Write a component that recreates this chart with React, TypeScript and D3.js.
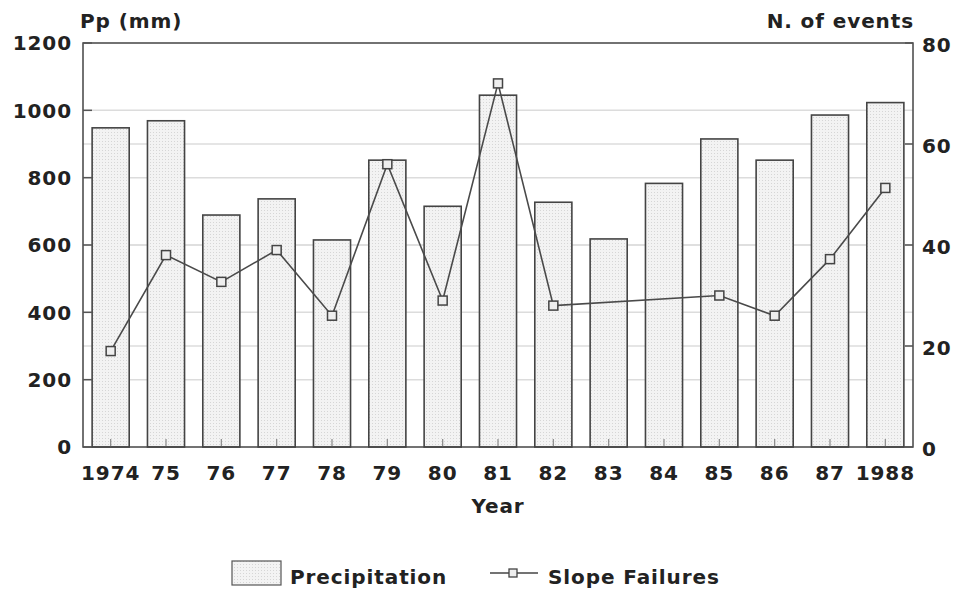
import React from "react";
import * as d3 from "d3";

const years = ["1974", "75", "76", "77", "78", "79", "80", "81", "82", "83", "84", "85", "86", "87", "1988"];
const precipitation = [948, 969, 689, 737, 615, 852, 715, 1045, 727, 618, 783, 915, 852, 986, 1023];
const slopeFailures: (number | null)[] = [19, 38, 32.7, 39, 26, 56, 29, 72, 28, null, null, 30, 26, 37.2, 51.3];
const leftTicks = [0, 200, 400, 600, 800, 1000, 1200];
const rightTicks = [0, 20, 40, 60, 80];

const W = 961, H = 595;
const L = 83, R = 913, T = 43, B = 447;
const FONT = "'DejaVu Sans', sans-serif";
const TXT = "#222";

export default function App() {
  const x = d3.scaleBand<string>().domain(years).range([L, R]).paddingInner(0.33).paddingOuter(0.165);
  const yL = d3.scaleLinear().domain([0, 1200]).range([B, T]);
  const yR = d3.scaleLinear().domain([0, 80]).range([B, T]);
  const pts = years
    .map((yr, i) => ({ yr, v: slopeFailures[i] }))
    .filter((d) => d.v !== null) as { yr: string; v: number }[];
  const line = d3
    .line<{ yr: string; v: number }>()
    .x((d) => (x(d.yr) as number) + x.bandwidth() / 2)
    .y((d) => yR(d.v));
  const ms = 9;
  const textStyle = { fontFamily: FONT, fontWeight: 700, fontSize: 20, letterSpacing: 0.9, fill: TXT } as const;

  return (
    <svg width={W} height={H} style={{ position: "absolute", left: 0, top: 0, background: "#fff" }}>
      <defs>
        <pattern id="dots" width="3" height="3" patternUnits="userSpaceOnUse">
          <rect width="3" height="3" fill="#f3f3f3" />
          <rect x="0" y="0" width="1" height="1" fill="#d6d6d6" />
        </pattern>
      </defs>
      {/* gridlines */}
      {leftTicks.slice(1, -1).map((t) => (
        <line key={"gl" + t} x1={L} x2={R} y1={yL(t)} y2={yL(t)} stroke="#dcdcdc" strokeWidth={1.5} />
      ))}
      {rightTicks.slice(1, -1).map((t) => (
        <line key={"gr" + t} x1={L} x2={R} y1={yR(t)} y2={yR(t)} stroke="#dcdcdc" strokeWidth={1.5} />
      ))}
      {/* bars */}
      {years.map((yr, i) => (
        <rect
          key={yr}
          x={x(yr)}
          y={yL(precipitation[i])}
          width={x.bandwidth()}
          height={B - yL(precipitation[i])}
          fill="url(#dots)"
          stroke="#444"
          strokeWidth={1.6}
        />
      ))}
      {/* bottom ticks */}
      {years.map((yr) => {
        const cx = (x(yr) as number) + x.bandwidth() / 2;
        return <line key={"bt" + yr} x1={cx} x2={cx} y1={B} y2={B - 8} stroke="#888" strokeWidth={1.2} />;
      })}
      {/* axes frame */}
      <rect x={L} y={T} width={R - L} height={B - T} fill="none" stroke="#444" strokeWidth={1.5} />
      {leftTicks.map((t) => (
        <line key={"lt" + t} x1={L} x2={L + 9} y1={yL(t)} y2={yL(t)} stroke="#555" strokeWidth={1.5} />
      ))}
      {rightTicks.map((t) => (
        <line key={"rt" + t} x1={R - 8} x2={R} y1={yR(t)} y2={yR(t)} stroke="#555" strokeWidth={1.5} />
      ))}
      {/* line */}
      <path d={line(pts) || ""} fill="none" stroke="#4a4a4a" strokeWidth={1.6} />
      {pts.map((d) => {
        const cx = (x(d.yr) as number) + x.bandwidth() / 2;
        return (
          <rect
            key={"m" + d.yr}
            x={cx - ms / 2}
            y={yR(d.v) - ms / 2}
            width={ms}
            height={ms}
            fill="#eee"
            stroke="#444"
            strokeWidth={1.5}
          />
        );
      })}
      {/* left labels */}
      {leftTicks.map((t) => (
        <text key={"ll" + t} x={72} y={yL(t)} dy="0.36em" textAnchor="end" style={textStyle}>
          {t}
        </text>
      ))}
      {rightTicks.map((t) => (
        <text key={"rl" + t} x={922} y={yR(t) + 2} dy="0.36em" textAnchor="start" style={textStyle}>
          {t}
        </text>
      ))}
      {years.map((yr) => (
        <text
          key={"xl" + yr}
          x={(x(yr) as number) + x.bandwidth() / 2}
          y={480}
          textAnchor="middle"
          style={textStyle}
        >
          {yr}
        </text>
      ))}
      <text x={80} y={28} style={textStyle}>Pp (mm)</text>
      <text x={914} y={28} textAnchor="end" style={textStyle}>N. of events</text>
      <text x={(L + R) / 2} y={513} textAnchor="middle" style={textStyle}>Year</text>
      {/* legend */}
      <rect x={232} y={561} width={49} height={24} fill="url(#dots)" stroke="#555" strokeWidth={1.2} />
      <text x={290} y={584} style={textStyle}>Precipitation</text>
      <line x1={490} x2={538} y1={573} y2={573} stroke="#444" strokeWidth={1.4} />
      <rect x={513 - 4} y={573 - 4} width={8} height={8} fill="#eee" stroke="#444" strokeWidth={1.3} />
      <text x={548} y={584} style={textStyle}>Slope Failures</text>
    </svg>
  );
}
